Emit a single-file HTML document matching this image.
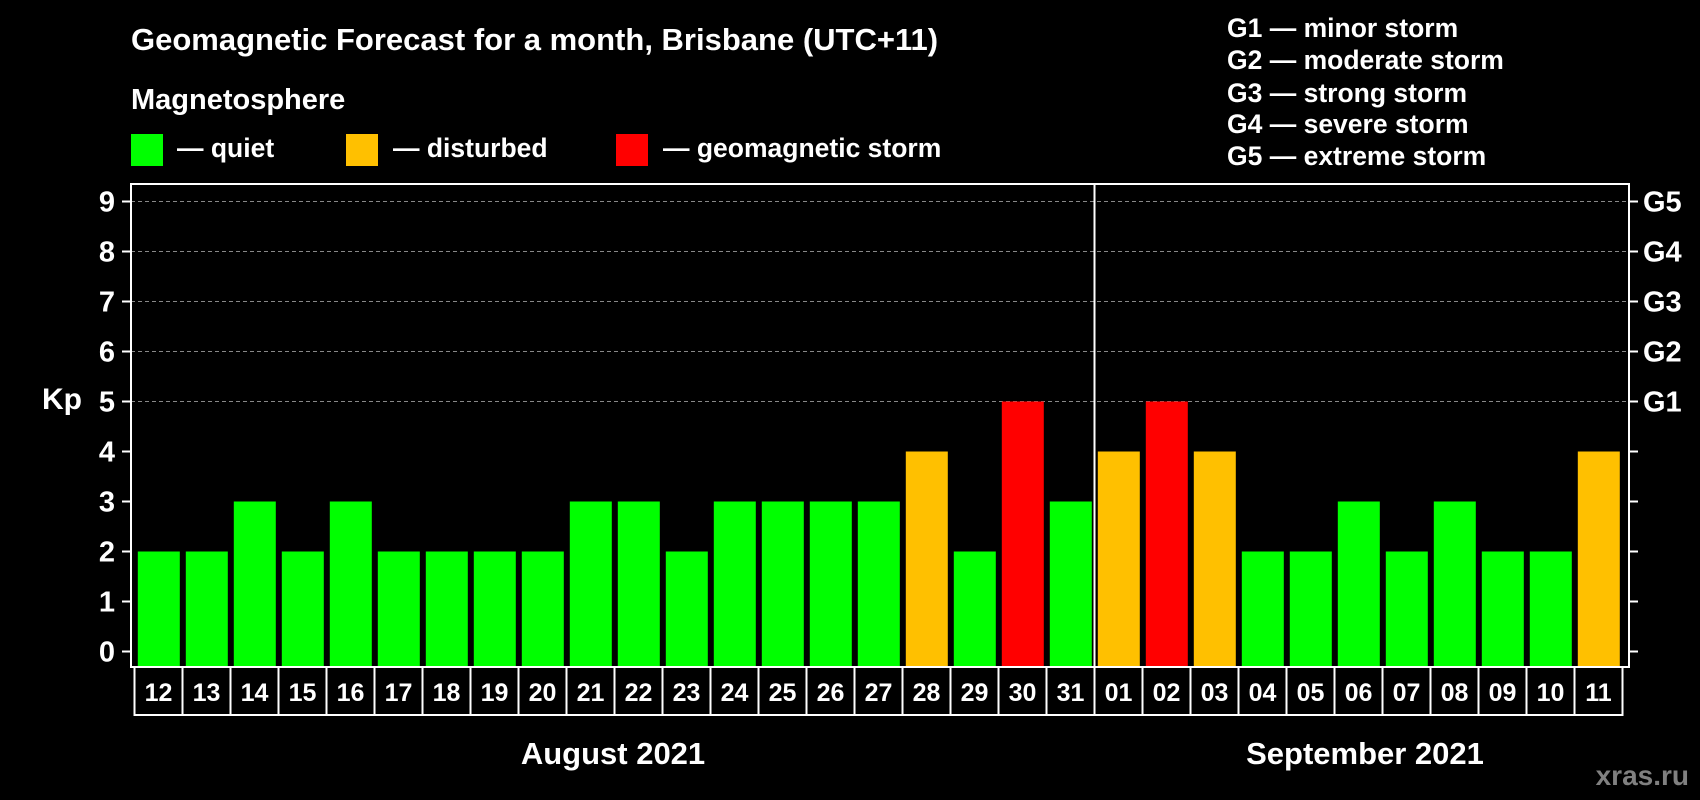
<!DOCTYPE html>
<html><head><meta charset="utf-8"><style>
html,body{margin:0;padding:0;background:#000;}
svg{display:block;font-family:"Liberation Sans",Arial,sans-serif;font-weight:bold;}
</style></head><body>
<svg id="chart" width="1700" height="800" viewBox="0 0 1700 800">
<rect width="1700" height="800" fill="#000"/>
<text x="131" y="50" fill="#fff" font-size="31">Geomagnetic Forecast for a month, Brisbane (UTC+11)</text>
<text x="131" y="109" fill="#fff" font-size="29">Magnetosphere</text>
<g><rect x="131" y="134" width="32" height="32" fill="#00ff00"/><text x="177" y="157" fill="#fff" font-size="26.5">— quiet</text></g>
<g><rect x="346" y="134" width="32" height="32" fill="#ffc000"/><text x="393" y="157" fill="#fff" font-size="26.5">— disturbed</text></g>
<g><rect x="616" y="134" width="32" height="32" fill="#ff0000"/><text x="663" y="157" fill="#fff" font-size="26.5">— geomagnetic storm</text></g>
<g fill="#fff" font-size="26.5">
<text x="1227" y="37">G1 — minor storm</text>
<text x="1227" y="69">G2 — moderate storm</text>
<text x="1227" y="102">G3 — strong storm</text>
<text x="1227" y="133">G4 — severe storm</text>
<text x="1227" y="165">G5 — extreme storm</text>
</g>
<text x="42" y="409" fill="#fff" font-size="30">Kp</text>
<text x="613" y="764" fill="#fff" font-size="31" text-anchor="middle">August 2021</text>
<text x="1365" y="764" fill="#fff" font-size="31" text-anchor="middle">September 2021</text>
<text x="1689" y="785" fill="#808080" font-size="28" text-anchor="end">xras.ru</text>
<g id="plot"></g>
</svg>
<script>
const days=["12","13","14","15","16","17","18","19","20","21","22","23","24","25","26","27","28","29","30","31","01","02","03","04","05","06","07","08","09","10","11"];
const kpValues=[2,2,3,2,3,2,2,2,2,3,3,2,3,3,3,3,4,2,5,3,4,5,4,2,2,3,2,3,2,2,4];
const yTicks=[0,1,2,3,4,5,6,7,8,9];
const gLabels=["G1","G2","G3","G4","G5"];
const NS="http://www.w3.org/2000/svg";
const g=document.getElementById('plot');
const L=131,R=1629,T=184,B=667,bx0=134.5,pitch=48;
const y0=651.5,unit=50;
function yS(v){return y0-v*unit;}
function xS(i){return bx0+i*pitch;}
function mk(t,a){const e=document.createElementNS(NS,t);for(const k in a)e.setAttribute(k,a[k]);g.appendChild(e);return e;}
yTicks.forEach(v=>{
  if(v>=5){const l=mk('line',{x1:L,x2:R,y1:yS(v),y2:yS(v),stroke:'#888','stroke-width':1,'stroke-dasharray':'4,3'});
  
  }
  const tl=mk('line',{x1:L-9,x2:L,y1:yS(v),y2:yS(v),stroke:'#fff','stroke-width':2});
  
  
  const tr=mk('line',{x1:R,x2:R+9,y1:yS(v),y2:yS(v),stroke:'#fff','stroke-width':2});
  
  
  const t=mk('text',{x:115,y:yS(v)+10,fill:'#fff','font-size':29,'text-anchor':'end'});t.textContent=v;
  
  
});
gLabels.forEach((s,i)=>{
  const t=mk('text',{x:1643,y:yS(5+i)+10,fill:'#fff','font-size':29});t.textContent=s;
  
  
});
kpValues.forEach((v,i)=>{
  const c=v>=5?'#ff0000':(v>=4?'#ffc000':'#00ff00');
  const r=mk('rect',{x:xS(i)+3.3,y:yS(v),width:42,height:B-yS(v),fill:c});
  
  
  const b=mk('rect',{x:xS(i),y:B,width:pitch,height:48,fill:'none',stroke:'#fff','stroke-width':2});
  
  
  const t=mk('text',{x:xS(i)+pitch/2,y:B+34,fill:'#fff','font-size':25,'text-anchor':'middle'});t.textContent=days[i];
  
  
});
const f=mk('rect',{x:L,y:T,width:R-L,height:B-T,fill:'none',stroke:'#fff','stroke-width':2});


const sepI=days.indexOf("01");
const s=mk('line',{x1:xS(sepI),x2:xS(sepI),y1:T,y2:B,stroke:'#fff','stroke-width':2});


</script>
</body></html>
